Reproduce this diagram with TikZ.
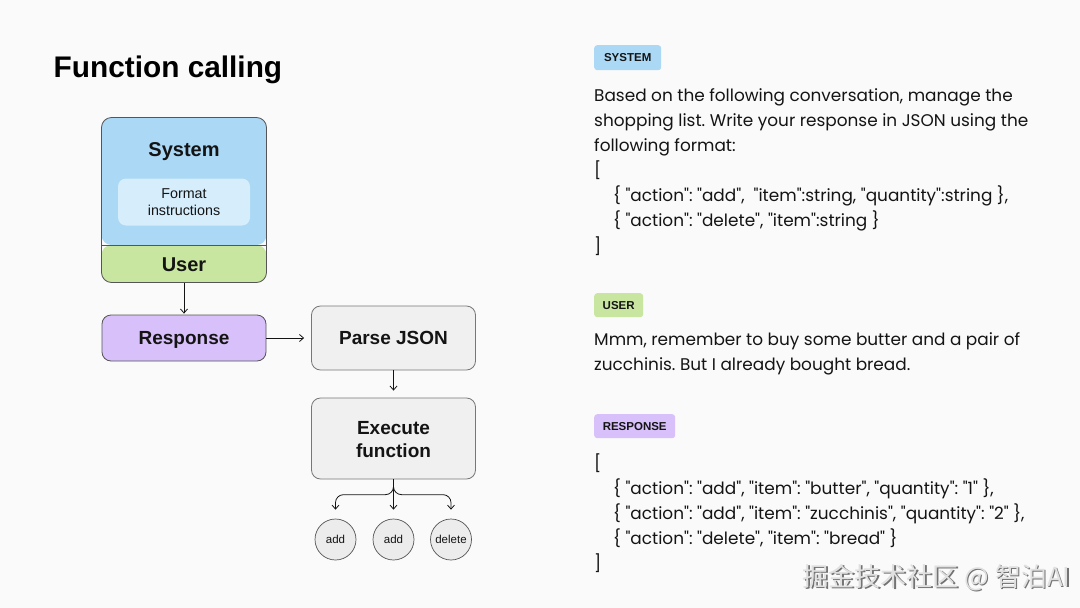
\documentclass[tikz,border=0pt]{standalone}
\usepackage{fontspec}
\newfontfamily\pop{Poppins}
\newfontfamily\bsans{Liberation Sans}
\newfontfamily\cjk{Noto Sans CJK SC}
\usetikzlibrary{arrows.meta}
\definecolor{bgc}{RGB}{250,250,250}
\definecolor{sysblue}{RGB}{170,216,245}
\definecolor{innerblue}{RGB}{214,237,251}
\definecolor{usergreen}{RGB}{200,230,160}
\definecolor{resppurple}{RGB}{216,192,250}
\definecolor{boxgray}{RGB}{240,240,240}
\definecolor{circgray}{RGB}{236,236,236}
\definecolor{edgec}{RGB}{85,85,85}
\definecolor{inkc}{RGB}{20,20,20}
\tikzset{
  every picture/.style={x=1pt,y=-1pt},
  boxline/.style={draw=edgec,line width=0.8pt},
  flowbox/.style={boxline,rounded corners=9pt,minimum width=164pt,inner sep=0pt,align=center,font=\bsans\bfseries\fontsize{19}{23}\selectfont,text=inkc},
  circ/.style={circle,draw=edgec,line width=0.7pt,fill=circgray,minimum size=41pt,inner sep=0pt,font=\bsans\fontsize{11.5}{13}\selectfont,text=inkc},
  conn/.style={draw=inkc,line width=0.8pt,-{Straight Barb[length=4pt,width=7pt,line width=0.8pt]}},
  tag/.style={rounded corners=3pt,inner sep=0pt,minimum height=25pt,font=\bsans\bfseries\fontsize{11.5}{13}\selectfont,text=inkc,anchor=north west},
  txt/.style={anchor=base west,inner sep=0pt,font=\pop\frenchspacing\fontsize{16.9}{20}\selectfont,text=inkc},
}
\begin{document}
\begin{tikzpicture}
\fill[bgc] (0,0) rectangle (1080,608);
\useasboundingbox (0,0) rectangle (1080,608);

% title
\node[anchor=base west,inner sep=0pt,font=\bsans\bfseries\fontsize{29.8}{34}\selectfont,text=black] (title) at (53.5,77.5) {Function calling};

% System / User box
\fill[sysblue,rounded corners=10pt] (101.5,245) -- (101.5,117.5) -- (266.5,117.5) -- (266.5,245) -- cycle;
\fill[usergreen,rounded corners=10pt] (101.5,245) -- (101.5,282.5) -- (266.5,282.5) -- (266.5,245) -- cycle;
\draw[boxline] (101.5,245) -- (266.5,245);
\draw[boxline,rounded corners=10pt] (101.5,117.5) rectangle (266.5,282.5);
\node[anchor=base,inner sep=0pt,font=\bsans\bfseries\fontsize{20}{24}\selectfont,text=inkc] (systxt) at (184,156.2) {System};
\node[fill=innerblue,rounded corners=8pt,minimum width=132pt,minimum height=47pt,inner sep=0pt,align=center,font=\bsans\fontsize{14.3}{16.5}\selectfont,text=inkc] (fmt) at (184,202) {Format\\instructions};
\node[anchor=base,inner sep=0pt,font=\bsans\bfseries\fontsize{20}{24}\selectfont,text=inkc] (usertxt) at (184,271.2) {User};
\coordinate (userbot) at (184,282.5);

% Response
\node[flowbox,fill=resppurple,minimum height=46pt,text height=13.6pt,text depth=0pt] (resp) at (184,338) {Response};
% Parse JSON
\node[flowbox,fill=boxgray,draw=edgec!80,minimum height=64pt,text height=13.6pt,text depth=0pt] (parse) at (393.5,338) {Parse JSON};
% Execute function
\node[flowbox,fill=boxgray,draw=edgec!80,minimum height=81pt] (exec) at (393.5,438.5) {};
\node[anchor=base,inner sep=0pt,font=\bsans\bfseries\fontsize{19}{23}\selectfont,text=inkc] (exec1) at (393.5,434.8) {Execute};
\node[anchor=base,inner sep=0pt,font=\bsans\bfseries\fontsize{19}{23}\selectfont,text=inkc] (exec2) at (393.5,457.5) {function};

\draw[conn] (userbot) -- ([yshift=1pt]resp.north);
\draw[conn] (resp.east) -- ([xshift=-7pt]parse.west);
\draw[conn] (parse.south) -- ([yshift=7pt]exec.north);

% circles
\node[circ] (c1) at (335.5,539.5) {add};
\node[circ] (c2) at (393.5,539.5) {add};
\node[circ] (c3) at (451,539.5) {delete};

\draw[conn] (exec.south) -- ([yshift=9pt]c2.north);
\draw[conn,rounded corners=8pt] (exec.south) |- ([yshift=24pt]c1.north) -- ([yshift=9pt]c1.north);
\draw[conn,rounded corners=8pt] (exec.south) |- ([yshift=24pt]c3.north) -- ([yshift=9pt]c3.north);

% right side: SYSTEM
\node[tag,fill=sysblue,minimum width=67pt] (tsys) at (594,45) {SYSTEM};
\node[txt] (s1) at (594,101) {Based on the following conversation, manage the};
\node[txt] (s2) at (594,126.3) {shopping list. Write your response in JSON using the};
\node[txt] (s3) at (594,151.5) {following format:};
\node[txt] (s4) at (594,176.7) {[};
\node[txt] (s5) at (613,201.8) {\{ "action": "add",\ \ "item":string, "quantity":string \},};
\node[txt] (s6) at (613,226.8) {\{ "action": "delete", "item":string \}};
\node[txt] (s7) at (594,252) {]};

% USER
\node[tag,fill=usergreen,minimum width=49pt,minimum height=24pt] (tuser) at (594,293) {USER};
\node[txt] (u1) at (594,345.3) {Mmm, remember to buy some butter and a pair of};
\node[txt] (u2) at (594,370.5) {zucchinis. But I already bought bread.};

% RESPONSE
\node[tag,fill=resppurple,minimum width=81pt,minimum height=24pt] (tresp) at (594,414) {RESPONSE};
\node[txt] (r1) at (594,469) {[};
\node[txt] (r2) at (613,494.2) {\{ "action": "add", "item": "butter", "quantity": "1" \},};
\node[txt] (r3) at (613,519.2) {\{ "action": "add", "item": "zucchinis", "quantity": "2" \},};
\node[txt] (r4) at (613,544.2) {\{ "action": "delete", "item": "bread" \}};
\node[txt] (r5) at (594,569.3) {]};

% watermark
\node[anchor=west,inner sep=0pt,font=\cjk\fontsize{26}{30}\selectfont,text=black!55] (wmshadow) at (803.8,578.6) {掘金技术社区 @ 智泊AI};
\node[anchor=west,inner sep=0pt,font=\cjk\fontsize{26}{30}\selectfont,text=black!12] (wm) at (802.6,577.4) {掘金技术社区 @ 智泊AI};
\end{tikzpicture}
\end{document}
